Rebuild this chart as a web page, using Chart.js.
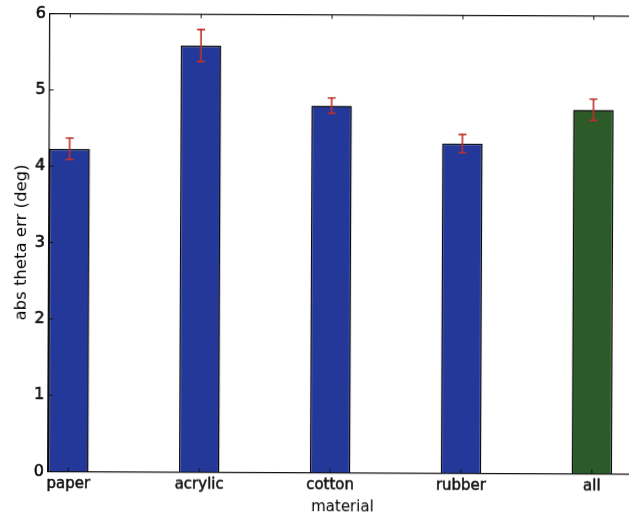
<!DOCTYPE html>
<html>
<head>
<meta charset="utf-8">
<script src="https://cdn.jsdelivr.net/npm/chart.js@4/dist/chart.umd.min.js"></script>
<style>
  html, body { margin: 0; padding: 0; background: #fff; overflow: hidden; }
  #wrap { width: 629px; height: 517px; overflow: hidden; position: relative; }
  canvas { position: absolute; left: 0; top: 0; transform: rotate(0.25deg); transform-origin: 48px 471.5px; }
</style>
</head>
<body>
<div id="wrap"><canvas id="c" width="637" height="517"></canvas></div>
<script>
// Mean absolute heading error per material, with standard error
const materials = ['paper', 'acrylic', 'cotton', 'rubber', 'all'];
const meanErr = [4.23, 5.59, 4.81, 4.32, 4.77];
const stdErr = [0.14, 0.21, 0.10, 0.12, 0.14];
const yTicks = [0, 1, 2, 3, 4, 5, 6];

const BAR_W = 0.31;          // bar width in axis units
const BLUE = '#24389a';
const GREEN = '#2c5a28';
const ERR_RED = '#c0302a';
const INK = '#111';

const barCenters = materials.map((_, i) => i + BAR_W / 2);
const points = materials.map((_, i) => ({ x: barCenters[i], y: meanErr[i] }));
const fills = materials.map(m => (m === 'all' ? GREEN : BLUE));

// Box spine on top, inward tick marks, and red error bars
const decor = {
  id: 'decor',
  afterDatasetsDraw(chart) {
    const { ctx, chartArea: a, scales: { x, y } } = chart;
    ctx.save();
    ctx.strokeStyle = INK;
    ctx.lineWidth = 1.3;
    ctx.beginPath();
    ctx.moveTo(a.left, a.top);
    ctx.lineTo(a.right, a.top);
    ctx.stroke();

    ctx.lineWidth = 1;
    ctx.beginPath();
    yTicks.forEach(v => {
      const py = y.getPixelForValue(v);
      ctx.moveTo(a.left, py);
      ctx.lineTo(a.left + 4, py);
    });
    barCenters.forEach(v => {
      const px = x.getPixelForValue(v);
      ctx.moveTo(px, a.bottom);
      ctx.lineTo(px, a.bottom - 4);
      ctx.moveTo(px, a.top);
      ctx.lineTo(px, a.top + 4);
    });
    ctx.stroke();

    ctx.strokeStyle = ERR_RED;
    ctx.lineWidth = 1.6;
    ctx.beginPath();
    meanErr.forEach((m, i) => {
      const px = x.getPixelForValue(barCenters[i]);
      const hi = y.getPixelForValue(m + stdErr[i]);
      const lo = y.getPixelForValue(m - stdErr[i]);
      ctx.moveTo(px, hi); ctx.lineTo(px, lo);
      ctx.moveTo(px - 4, hi); ctx.lineTo(px + 4, hi);
      ctx.moveTo(px - 4, lo); ctx.lineTo(px + 4, lo);
    });
    ctx.stroke();
    ctx.restore();
  }
};

const tickFont = { family: 'DejaVu Sans', size: 15 };

new Chart(document.getElementById('c'), {
  type: 'bar',
  data: {
    datasets: [{
      data: points,
      backgroundColor: fills,
      borderColor: '#0a0a0a',
      borderWidth: 1.5,
      borderSkipped: 'start',
      categoryPercentage: 1,
      barPercentage: BAR_W
    }]
  },
  options: {
    responsive: false,
    animation: false,
    events: [],
    layout: { padding: { top: 13, left: 0, right: 0, bottom: 0 } },
    plugins: { legend: { display: false }, tooltip: { enabled: false } },
    scales: {
      x: {
        type: 'linear',
        min: 0,
        max: 4.5,
        offset: false,
        grid: { display: false, drawTicks: false, offset: false },
        border: { display: true, color: INK, width: 1.3 },
        afterBuildTicks(scale) { scale.ticks = barCenters.map(v => ({ value: v })); },
        afterFit(scale) { scale.height = 45.5; },
        ticks: {
          autoSkip: false,
          maxRotation: 0,
          padding: 4,
          color: INK,
          textStrokeColor: INK,
          textStrokeWidth: 0.5,
          font: tickFont,
          callback: (v, i) => materials[i]
        },
        title: {
          display: true,
          text: 'material',
          color: '#000',
          font: { family: 'DejaVu Sans', size: 15 },
          padding: { top: 0, bottom: 2 }
        }
      },
      y: {
        min: 0,
        max: 6,
        grid: { display: false, drawTicks: false },
        border: { display: true, color: INK, width: 1.3 },
        afterBuildTicks(scale) { scale.ticks = yTicks.map(v => ({ value: v })); },
        afterFit(scale) { scale.width = 48; },
        ticks: {
          padding: 4,
          color: INK,
          textStrokeColor: INK,
          textStrokeWidth: 0.6,
          font: { family: 'DejaVu Sans', size: 16 }
        },
        title: {
          display: true,
          text: 'abs theta err (deg)',
          color: '#000',
          font: { family: 'DejaVu Sans', size: 16.5 },
          padding: { top: 11, bottom: 0 }
        }
      }
    }
  },
  plugins: [decor]
});
</script>
</body>
</html>
